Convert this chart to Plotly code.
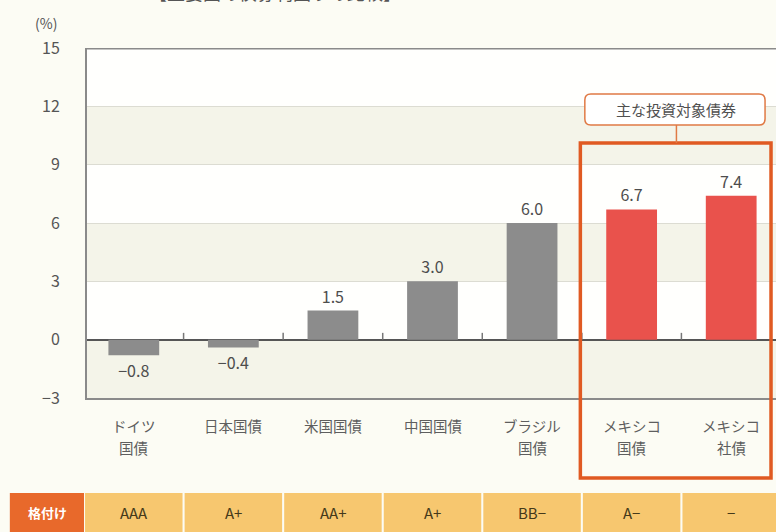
import plotly.graph_objects as go

# ---- data ----
categories = ["ドイツ<br>国債", "日本国債", "米国国債", "中国国債", "ブラジル<br>国債", "メキシコ<br>国債", "メキシコ<br>社債"]
yields = [-0.8, -0.4, 1.5, 3.0, 6.0, 6.7, 7.4]
ratings = ["AAA", "A+", "AA+", "A+", "BB−", "A−", "−"]
highlight = [False, False, False, False, False, True, True]
y_ticks = [-3, 0, 3, 6, 9, 12, 15]

FONT = "Noto Sans CJK JP"
W, H = 776, 532
ML, MR, MT, MB = 87, 0, 48, 134
XR = [-0.47, 6.45]
YR = [-3, 15]
PW, PH = W - ML - MR, H - MT - MB

def xpaper(v):
    return (v - XR[0]) / (XR[1] - XR[0])

def ypix(p):
    # pixel row -> paper y
    return (H - MB - p) / PH

xs = list(range(len(categories)))
colors = ["#e9524c" if h else "#8c8c8c" for h in highlight]

fig = go.Figure()
fig.add_trace(go.Bar(
    x=xs, y=yields, width=0.51, marker=dict(color=colors, line=dict(width=0)),
    text=[f"{v:.1f}".replace("-", "−") for v in yields], textposition="outside",
    textfont=dict(family=FONT, size=16, color="#4d4d4d"), cliponaxis=False,
    hoverinfo="skip",
))

shapes = []
# alternating bands
for lo, hi in [(9, 12), (3, 6), (-3, 0)]:
    shapes.append(dict(type="rect", xref="paper", yref="y", x0=0, x1=1, y0=lo, y1=hi,
                       fillcolor="#f4f4e9", line=dict(width=0), layer="below"))
# top border
shapes.append(dict(type="line", xref="paper", yref="y", x0=0, x1=1, y0=15, y1=15,
                   line=dict(color="#8a8a8a", width=3)))
# small ticks on zero line between categories
for i in range(len(categories) - 1):
    shapes.append(dict(type="line", xref="x", yref="y", x0=i + 0.5, x1=i + 0.5, y0=0, y1=0.35,
                       line=dict(color="#777", width=1.5)))

# ratings row
ry0, ry1 = ypix(532), ypix(493)
shapes.append(dict(type="rect", xref="paper", yref="paper", x0=xpaper(-1.245), x1=xpaper(-0.5),
                   y0=ry0, y1=ry1, fillcolor="#e8692b", line=dict(width=0)))
for i in xs:
    shapes.append(dict(type="rect", xref="paper", yref="paper", x0=xpaper(i - 0.5) + 0.0015,
                       x1=xpaper(i + 0.5) - 0.0015, y0=ry0, y1=ry1,
                       fillcolor="#f7c76f", line=dict(width=0)))
# highlight box
shapes.append(dict(type="rect", xref="paper", yref="paper", x0=xpaper(4.485), x1=xpaper(6.4),
                   y0=ypix(478), y1=ypix(143), line=dict(color="#e05a22", width=3.5),
                   fillcolor="rgba(0,0,0,0)"))
# callout connector
shapes.append(dict(type="line", xref="paper", yref="paper", x0=xpaper(5.45), x1=xpaper(5.45),
                   y0=ypix(143), y1=ypix(125), line=dict(color="#e07a45", width=1.5)))
# callout rounded box
bx0, bx1 = xpaper(4.53), xpaper(6.34)
by0, by1 = ypix(125), ypix(94)
rx, ry = 6 / PW, 6 / PH
path = (f"M {bx0+rx},{by0} L {bx1-rx},{by0} Q {bx1},{by0} {bx1},{by0+ry} "
        f"L {bx1},{by1-ry} Q {bx1},{by1} {bx1-rx},{by1} L {bx0+rx},{by1} "
        f"Q {bx0},{by1} {bx0},{by1-ry} L {bx0},{by0+ry} Q {bx0},{by0} {bx0+rx},{by0} Z")
shapes.append(dict(type="path", xref="paper", yref="paper", path=path,
                   fillcolor="#ffffff", line=dict(color="#e07a45", width=1.5)))

annotations = []
annotations.append(dict(text="主な投資対象債券", xref="paper", yref="paper", x=xpaper(5.45),
                        y=ypix(109.5), showarrow=False, xanchor="center", yanchor="middle",
                        font=dict(family=FONT, size=15, color="#505050")))
annotations.append(dict(text="(%)", xref="paper", yref="paper", x=(46 - ML) / PW, y=ypix(23),
                        showarrow=False, xanchor="center", yanchor="middle",
                        font=dict(family=FONT, size=14, color="#555")))
annotations.append(dict(text="【主要国の債券利回りの比較】", xref="paper", yref="paper",
                        x=(275 - ML) / PW, y=ypix(7), showarrow=False, xanchor="center",
                        yanchor="bottom", font=dict(family=FONT, size=18, color="#555")))
# category labels
for i, c in enumerate(categories):
    for j, line in enumerate(c.split("<br>")):
        annotations.append(dict(text=line, xref="x", yref="paper", x=i, y=ypix(425 + 22 * j),
                                showarrow=False, xanchor="center", yanchor="middle",
                                font=dict(family=FONT, size=14.5, color="#5e5e5e")))
# ratings
annotations.append(dict(text="<b>格付け</b>", xref="paper", yref="paper", x=xpaper(-0.87),
                        y=ypix(512.5), showarrow=False, xanchor="center", yanchor="middle",
                        font=dict(family=FONT, size=13, color="#ffffff")))
for i, r in enumerate(ratings):
    annotations.append(dict(text=r, xref="x", yref="paper", x=i, y=ypix(512.5),
                            showarrow=False, xanchor="center", yanchor="middle",
                            font=dict(family=FONT, size=15, color="#45391a")))

fig.update_layout(
    width=W, height=H, margin=dict(l=ML, r=MR, t=MT, b=MB),
    paper_bgcolor="#fcfcf4", plot_bgcolor="#fffffd",
    showlegend=False, shapes=shapes, annotations=annotations,
    xaxis=dict(range=XR, showticklabels=False, ticks="", showgrid=False, zeroline=False,
               showline=True, linecolor="#8a8a8a", linewidth=2, fixedrange=True),
    yaxis=dict(range=YR, tickvals=y_ticks, ticktext=[str(t).replace("-", "−") for t in y_ticks],
               tickfont=dict(family=FONT, size=16, color="#555"), ticks="",
               ticklabelstandoff=22, showgrid=True, gridcolor="#dcdcd2", gridwidth=1,
               zeroline=True, zerolinecolor="#555", zerolinewidth=1.5,
               showline=True, linecolor="#8a8a8a", linewidth=2, fixedrange=True),
    font=dict(family=FONT),
)

fig.write_html("out.html", config={"displayModeBar": False},
               post_script="document.body.style.margin='0';document.body.style.background='#fcfcf4';")
